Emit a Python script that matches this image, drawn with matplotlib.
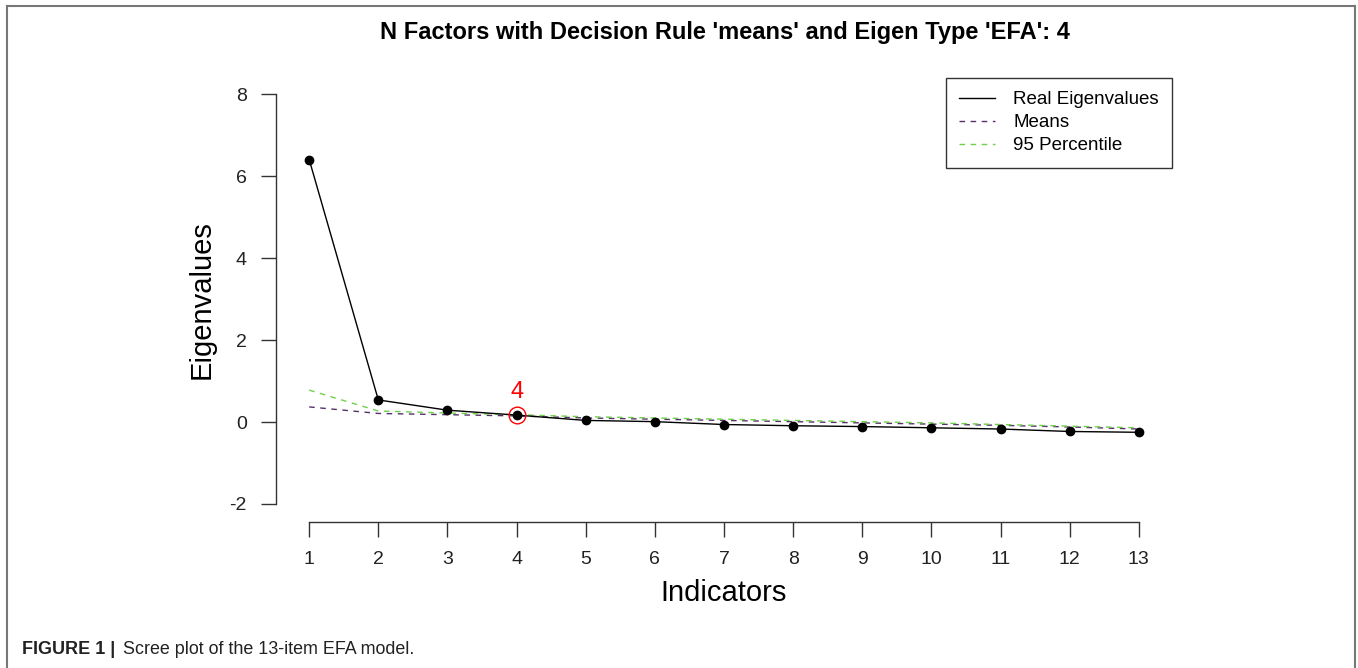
import matplotlib.pyplot as plt
from matplotlib.lines import Line2D

plt.rcParams['font.family'] = ['Liberation Sans', 'DejaVu Sans']
plt.rcParams['axes.unicode_minus'] = False

# Scree plot values
indicators = list(range(1, 14))
real_eigen = [6.41, 0.54, 0.29, 0.17, 0.04, 0.01, -0.06, -0.09, -0.11, -0.14, -0.17, -0.23, -0.25]
means = [0.37, 0.21, 0.18, 0.15, 0.10, 0.07, 0.04, 0.01, -0.02, -0.05, -0.08, -0.12, -0.17]
perc95 = [0.78, 0.27, 0.22, 0.18, 0.13, 0.10, 0.07, 0.04, 0.01, -0.02, -0.06, -0.10, -0.14]
n_factors = 4
y_ticks = [-2, 0, 2, 4, 6, 8]

fig = plt.figure(figsize=(13.58, 6.68), dpi=100)
ax = fig.add_axes([276 / 1358, 1 - 522 / 668, (1172 - 276) / 1358, (522 - 78) / 668])

dash = (0, (4, 4))
ax.plot(indicators, real_eigen, color='black', lw=1, marker='o', ms=6, label='Real Eigenvalues', zorder=3)
ax.plot(indicators, means, color='#55306b', lw=1, ls=dash, label='Means', zorder=2)
ax.plot(indicators, perc95, color='#6fd04a', lw=1, ls=dash, label='95 Percentile', zorder=2)

# highlight the retained factor
ax.plot(n_factors, real_eigen[n_factors - 1], 'o', ms=12, mfc='none', mec='red', mew=1, zorder=4)
ax.text(n_factors, real_eigen[n_factors - 1] + 0.3, str(n_factors), color='red', fontsize=17,
        ha='center', va='bottom')

ax.set_xlim(0.52, 13.48)
ax.set_ylim(-2.44, 8.4)
ax.set_xticks(indicators)
ax.set_yticks(y_ticks)
ax.tick_params(labelsize=14, length=11, width=1, pad=10, colors='#333333', labelcolor='#222222')

for s in ['top', 'right']:
    ax.spines[s].set_visible(False)
ax.spines['left'].set_bounds(-2, 8)
ax.spines['bottom'].set_bounds(1, 13)
for s in ['left', 'bottom']:
    ax.spines[s].set_color('#333333')
    ax.spines[s].set_linewidth(1)

ax.set_xlabel('Indicators', fontsize=21, labelpad=8)
ax.set_ylabel('Eigenvalues', fontsize=21, labelpad=10)

handles = [
    Line2D([], [], color='black', lw=1),
    Line2D([], [], color='#55306b', lw=1, ls=dash),
    Line2D([], [], color='#6fd04a', lw=1, ls=dash),
]
leg = ax.legend(handles, ['Real Eigenvalues', 'Means', '95 Percentile'], loc='upper right',
                bbox_to_anchor=(1.0, 1.0), fontsize=13.5, frameon=True, fancybox=False,
                edgecolor='black', borderpad=0.7, labelspacing=0.32, handlelength=1.9,
                handletextpad=1.0, borderaxespad=0)
leg.get_frame().set_linewidth(1)

fig.text(725 / 1358, 1 - 33 / 668, "N Factors with Decision Rule 'means' and Eigen Type 'EFA': 4",
         fontsize=17, fontweight='bold', ha='center', va='center')

# caption
fig.text(22 / 1358, 1 - 650 / 668, 'FIGURE 1 |', fontsize=13, fontweight='bold', va='center',
         color='#222222')
fig.text(123 / 1358, 1 - 650 / 668, 'Scree plot of the 13-item EFA model.', fontsize=12.9,
         va='center', color='#222222')

# open frame around the figure panel
frame_kw = dict(color='#777777', lw=1.5, transform=fig.transFigure)
fig.add_artist(Line2D([7 / 1358, 7 / 1358], [0, 1 - 6 / 668], **frame_kw))
fig.add_artist(Line2D([7 / 1358, 1355 / 1358], [1 - 6 / 668, 1 - 6 / 668], **frame_kw))
fig.add_artist(Line2D([1355 / 1358, 1355 / 1358], [0, 1 - 6 / 668], **frame_kw))

fig.savefig('out.png', dpi=100)
